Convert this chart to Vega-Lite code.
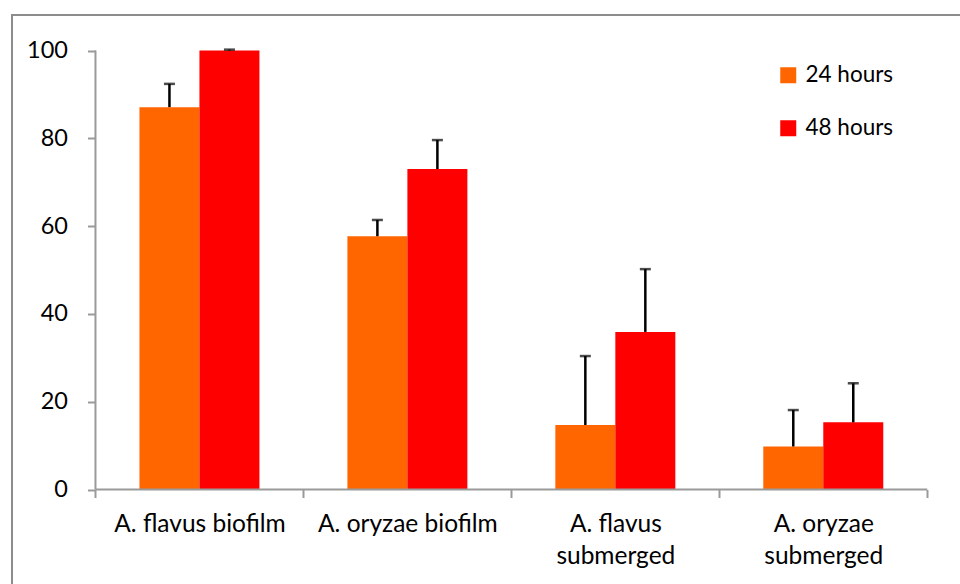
{
  "$schema": "https://vega.github.io/schema/vega-lite/v6.json",
  "width": 960,
  "height": 584,
  "autosize": {"type": "none"},
  "padding": {"left": 12, "top": 15, "right": 0, "bottom": 0},
  "background": "white",
  "config": {"view": {"stroke": "#8c8c8c", "strokeWidth": 2}, "font": "Lato"},
  "data": {"values": [
    {"sample": "A. flavus biofilm", "time": "24 hours", "value": 87.1, "upper": 92.4},
    {"sample": "A. flavus biofilm", "time": "48 hours", "value": 100, "upper": 100.2},
    {"sample": "A. oryzae biofilm", "time": "24 hours", "value": 57.7, "upper": 61.4},
    {"sample": "A. oryzae biofilm", "time": "48 hours", "value": 73.0, "upper": 79.6},
    {"sample": "A. flavus submerged", "time": "24 hours", "value": 14.7, "upper": 30.4},
    {"sample": "A. flavus submerged", "time": "48 hours", "value": 35.9, "upper": 50.2},
    {"sample": "A. oryzae submerged", "time": "24 hours", "value": 9.8, "upper": 18.1},
    {"sample": "A. oryzae submerged", "time": "48 hours", "value": 15.3, "upper": 24.2}
  ]},
  "layer": [
    {
      "mark": {"type": "bar"},
      "encoding": {
        "x": {
          "field": "sample", "type": "nominal", "sort": null,
          "scale": {"domain": ["A. flavus biofilm", "A. oryzae biofilm", "A. flavus submerged", "A. oryzae submerged"], "paddingInner": 0, "paddingOuter": 0.3083, "align": 0.651},
          "axis": {
            "orient": "bottom", "offset": -109.5, "domain": false, "tickBand": "extent",
            "tickSize": 8, "tickWidth": 2, "tickColor": "#9a9a9a", "labelAngle": 0,
            "labelFontSize": 24.5, "labelColor": "#000000", "labelPadding": 15, "labelLineHeight": 32,
            "labelLimit": 400, "labelOverlap": false,
            "labelExpr": "test(/submerged/, datum.label) ? [replace(datum.label, ' submerged', ''), 'submerged'] : datum.label",
            "title": null
          }
        },
        "xOffset": {"field": "time", "type": "nominal", "scale": {"paddingInner": 0, "paddingOuter": 0.733}},
        "y": {
          "field": "value", "type": "quantitative",
          "scale": {"domain": [-24.94, 108.09], "nice": false, "zero": false},
          "axis": {
            "values": [0, 20, 40, 60, 80, 100], "offset": -83.5, "domain": false, "grid": false,
            "tickSize": 8, "tickWidth": 2, "tickColor": "#9a9a9a",
            "labelFontSize": 23.5, "labelColor": "#000000", "labelPadding": 20, "title": null
          }
        },
        "color": {
          "field": "time", "type": "nominal",
          "scale": {"domain": ["24 hours", "48 hours"], "range": ["#FF6600", "#FF0000"]},
          "legend": {
            "orient": "none", "legendX": 765, "legendY": 49, "title": null,
            "symbolType": "square", "symbolSize": 256, "symbolStrokeWidth": 0,
            "labelFontSize": 22.5, "labelColor": "#000000", "rowPadding": 30, "labelOffset": 6
          }
        }
      }
    },
    {
      "mark": {"type": "rule", "color": "#000000", "strokeWidth": 2.5},
      "encoding": {
        "x": {"field": "sample", "type": "nominal"},
        "xOffset": {"field": "time", "type": "nominal"},
        "y": {"field": "value", "type": "quantitative"},
        "y2": {"field": "upper"}
      }
    },
    {
      "mark": {"type": "tick", "color": "#000000", "thickness": 2.5, "size": 11},
      "encoding": {
        "x": {"field": "sample", "type": "nominal"},
        "xOffset": {"field": "time", "type": "nominal"},
        "y": {"field": "upper", "type": "quantitative"}
      }
    },
    {
      "data": {"values": [{"a": 1}]},
      "mark": {"type": "rule", "color": "#9a9a9a", "strokeWidth": 2},
      "encoding": {
        "x": {"datum": "A. flavus biofilm", "type": "nominal", "bandPosition": 0},
        "x2": {"datum": "A. oryzae submerged", "bandPosition": 1},
        "y": {"datum": 0, "type": "quantitative"}
      }
    },
    {
      "data": {"values": [{"a": 1}]},
      "mark": {"type": "rule", "color": "#9a9a9a", "strokeWidth": 2},
      "encoding": {
        "x": {"datum": "A. flavus biofilm", "type": "nominal", "bandPosition": 0},
        "y": {"datum": 0, "type": "quantitative"},
        "y2": {"datum": 100}
      }
    }
  ]
}
